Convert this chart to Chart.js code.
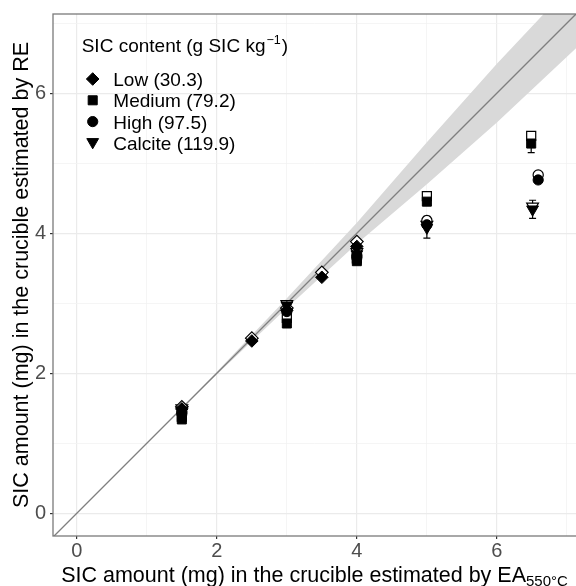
<!DOCTYPE html>
<html><head><meta charset="utf-8">
<script src="https://cdn.jsdelivr.net/npm/chart.js@4"></script>
<style>html,body{margin:0;padding:0;background:#fff}#wrap{width:576px;height:586px}</style>
</head><body><div id="wrap"><canvas id="c" width="576" height="586"></canvas></div>
<script>
// ---- text ----
const legendTitle = 'SIC content (g SIC kg';
const legendTitleSup = '\u22121';
const legendTitleEnd = ')';
const seriesNames = ['Low (30.3)', 'Medium (79.2)', 'High (97.5)', 'Calcite (119.9)'];
const xTitle = 'SIC amount (mg) in the crucible estimated by EA';
const xTitleSub = '550\u00B0C';
const yTitle = 'SIC amount (mg) in the crucible estimated by RE';
const tickLabels = [0, 2, 4, 6];

// ---- data ----
const lowX = [1.5, 2.5, 3, 3.5, 4];
const lowY = [1.49, 2.46, 2.9, 3.37, 3.81];
const lowOpenY = [1.52, 2.5, 2.93, 3.44, 3.88];

const mediumX = [1.5, 3, 4, 5, 6.49];
const mediumY = [1.34, 2.71, 3.6, 4.45, 5.28];
const mediumOpenY = [1.38, 2.79, 3.64, 4.53, 5.39];
const mediumErrLo = [null, null, null, null, 5.15];
const mediumErrHi = [null, null, null, null, 5.45];

const highX = [1.5, 3, 4, 5, 6.59];
const highY = [1.42, 2.88, 3.65, 4.12, 4.76];
const highOpenY = [1.45, 2.9, 3.68, 4.18, 4.83];

const calciteX = [1.5, 3, 4, 5, 6.51];
const calciteY = [1.47, 2.97, 3.7, 4.08, 4.34];
const calciteOpenY = [1.5, 2.99, 3.73, 4.12, 4.38];
const calciteErrLo = [null, null, null, 3.93, 4.21];
const calciteErrHi = [null, null, null, 4.24, 4.47];

const bandX = [-0.34, 1.5, 2, 3, 4, 5, 6, 7.13];
const bandLo = [-0.34, 1.495, 1.98, 2.93, 3.85, 4.7, 5.58, 6.64];
const bandHi = [-0.34, 1.505, 2.02, 3.07, 4.15, 5.3, 6.42, 7.62];
const refLineX = [-0.34, 7.13];

// ---- styles ----
const FONT = "'Liberation Sans', Arial, sans-serif";
const shapes = ['rectRot', 'rect', 'circle', 'triangle'];
const radii = [6.3, 6.4, 5.1, 6.8];
const rotations = [0, 0, 0, 180];

const pts = (xs, ys) => xs.map((v, i) => ({x: v, y: ys[i]}));

const seriesX = [lowX, mediumX, highX, calciteX];
const seriesY = [lowY, mediumY, highY, calciteY];
const seriesOpenY = [lowOpenY, mediumOpenY, highOpenY, calciteOpenY];

const datasets = [
  {label: 'bandLo', data: pts(bandX, bandLo), showLine: true, pointRadius: 0, borderWidth: 0, borderColor: 'rgba(0,0,0,0)', fill: false, order: 10},
  {label: 'bandHi', data: pts(bandX, bandHi), showLine: true, pointRadius: 0, borderWidth: 0, borderColor: 'rgba(0,0,0,0)', backgroundColor: '#d9d9d9', fill: '-1', order: 9},
  {label: 'ref', data: pts(refLineX, refLineX), showLine: true, pointRadius: 0, borderWidth: 1.3, borderColor: '#7f7f7f', fill: false, order: 8}
];
for (let s = 0; s < 4; s++) {
  datasets.push({label: seriesNames[s] + ' open', data: pts(seriesX[s], seriesOpenY[s]), showLine: false,
    pointStyle: shapes[s], pointRadius: radii[s], pointRotation: rotations[s],
    pointBackgroundColor: '#ffffff', pointBorderColor: '#000000', pointBorderWidth: 1.2, order: 2});
}
for (let s = 0; s < 4; s++) {
  datasets.push({label: seriesNames[s], data: pts(seriesX[s], seriesY[s]), showLine: false,
    pointStyle: shapes[s], pointRadius: radii[s], pointRotation: rotations[s],
    pointBackgroundColor: '#000000', pointBorderColor: '#000000', pointBorderWidth: 1, order: 0});
}

const errorBars = {
  id: 'errorBars',
  beforeDatasetsDraw(chart) {
    const {ctx, scales: {x, y}} = chart;
    ctx.save();
    ctx.strokeStyle = '#000'; ctx.lineWidth = 1.2;
    [[mediumX, mediumErrLo, mediumErrHi], [calciteX, calciteErrLo, calciteErrHi]].forEach(([xs, lo, hi]) => {
      xs.forEach((xv, i) => {
        if (lo[i] == null) return;
        const px = x.getPixelForValue(xv), p1 = y.getPixelForValue(lo[i]), p2 = y.getPixelForValue(hi[i]);
        const w = 3.5;
        ctx.beginPath();
        ctx.moveTo(px, p1); ctx.lineTo(px, p2);
        ctx.moveTo(px - w, p1); ctx.lineTo(px + w, p1);
        ctx.moveTo(px - w, p2); ctx.lineTo(px + w, p2);
        ctx.stroke();
      });
    });
    ctx.restore();
  }
};

const decorations = {
  id: 'decorations',
  afterDatasetsDraw(chart) {
    const {ctx, chartArea: a} = chart;
    ctx.save();
    ctx.strokeStyle = '#7a7a7a'; ctx.lineWidth = 1.3;
    ctx.strokeRect(a.left, a.top, a.right - a.left + 4, a.bottom - a.top);
    ctx.restore();
  },
  afterDraw(chart) {
    const {ctx, chartArea: a} = chart;
    ctx.save();
    ctx.fillStyle = '#000';
    // x title with subscript
    ctx.font = '21.5px ' + FONT;
    const w1 = ctx.measureText(xTitle).width;
    ctx.font = '15px ' + FONT;
    const w2 = ctx.measureText(xTitleSub).width;
    const cx = (a.left + a.right) / 2;
    const sx = cx - (w1 + w2) / 2;
    ctx.textAlign = 'left'; ctx.textBaseline = 'alphabetic';
    ctx.font = '21.5px ' + FONT;
    ctx.fillText(xTitle, sx, 582);
    ctx.font = '15px ' + FONT;
    ctx.fillText(xTitleSub, sx + w1, 586);
    // y title
    ctx.save();
    ctx.translate(27.5, (a.top + a.bottom) / 2);
    ctx.rotate(-Math.PI / 2);
    ctx.textAlign = 'center';
    ctx.font = '21.5px ' + FONT;
    ctx.fillText(yTitle, 0, 0);
    ctx.restore();
    // legend title
    ctx.textAlign = 'left';
    ctx.font = '19px ' + FONT;
    let lx = 81.7;
    ctx.fillText(legendTitle, lx, 52);
    lx += ctx.measureText(legendTitle).width + 1;
    ctx.font = '12.5px ' + FONT;
    ctx.fillText(legendTitleSup, lx, 44);
    lx += ctx.measureText(legendTitleSup).width + 1;
    ctx.font = '19px ' + FONT;
    ctx.fillText(legendTitleEnd, lx, 52);
    // legend entries
    const baselines = [86, 107.3, 128.6, 150];
    for (let s = 0; s < 4; s++) {
      ctx.fillStyle = '#000'; ctx.strokeStyle = '#000';
      Chart.helpers.drawPoint(ctx, {pointStyle: shapes[s], radius: radii[s], rotation: rotations[s], borderWidth: 1},
        92.7, baselines[s] - 7 + (s === 3 ? -1 : 0));
      ctx.fillStyle = '#000';
      ctx.font = '19px ' + FONT;
      ctx.fillText(seriesNames[s], 113.3, baselines[s]);
    }
    ctx.restore();
  }
};

const gridColor = c => (c.tick && c.tick.value % 2 === 0) ? '#ebebeb' : '#f2f2f2';
const gridWidth = c => (c.tick && c.tick.value % 2 === 0) ? 1.2 : 0.8;
const tickColor = c => (c.tick && c.tick.value % 2 === 0) ? '#333333' : 'rgba(0,0,0,0)';
const tickCb = v => tickLabels.includes(v) ? String(v) : '';

new Chart(document.getElementById('c'), {
  type: 'scatter',
  data: {datasets},
  plugins: [errorBars, decorations],
  options: {
    responsive: false,
    animation: false,
    devicePixelRatio: 1,
    layout: {autoPadding: false, padding: {top: 14, right: 0, left: 0, bottom: 0}},
    plugins: {legend: {display: false}, tooltip: {enabled: false}},
    scales: {
      x: {
        type: 'linear', min: -0.34, max: 7.13,
        afterFit: s => { s.height = 50; s.paddingRight = 0; s.paddingLeft = 0; },
        border: {display: false},
        grid: {color: gridColor, lineWidth: gridWidth, tickColor: tickColor, tickLength: 3, tickWidth: 1.2},
        ticks: {stepSize: 1, includeBounds: false, autoSkip: false, maxRotation: 0, padding: 0,
          color: '#4d4d4d', font: {family: FONT, size: 20}, callback: tickCb}
      },
      y: {
        type: 'linear', min: -0.325, max: 7.13,
        afterFit: s => { s.width = 53; s.paddingTop = 0; s.paddingBottom = 0; },
        border: {display: false},
        grid: {color: gridColor, lineWidth: gridWidth, tickColor: tickColor, tickLength: 3, tickWidth: 1.2},
        ticks: {stepSize: 1, includeBounds: false, autoSkip: false, padding: 4,
          color: '#4d4d4d', font: {family: FONT, size: 20}, callback: tickCb}
      }
    }
  }
});
</script>
</body></html>
